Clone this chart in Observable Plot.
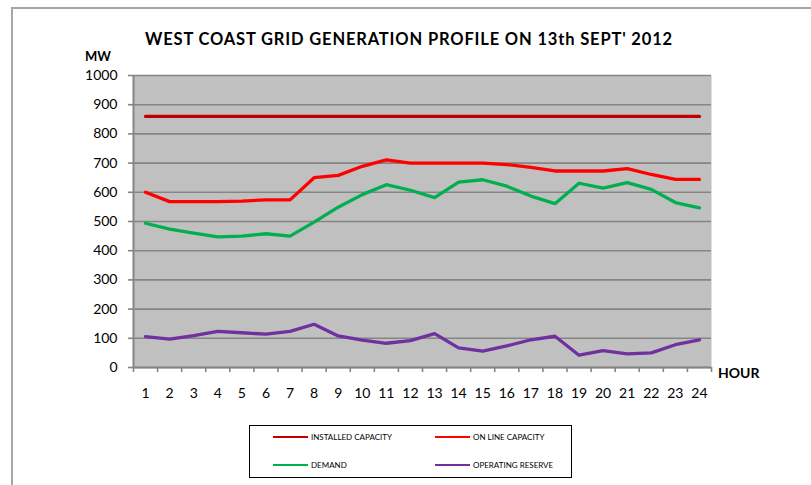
<!DOCTYPE html>
<html>
<head>
<meta charset="utf-8">
<script src="https://cdn.jsdelivr.net/npm/d3@7"></script>
<script src="https://cdn.jsdelivr.net/npm/@observablehq/plot@0.6"></script>
<style>
  html, body { margin: 0; padding: 0; background: #fff; }
  #wrap { position: relative; width: 811px; height: 485px; overflow: hidden; font-family: Lato, "Open Sans", sans-serif; }
  #frame { position: absolute; left: 11px; top: 7px; width: 900px; height: 600px; border-left: 2px solid #a6a6a6; border-top: 2px solid #a6a6a6; }
  #chart { position: absolute; left: 0; top: 0; }
  .lbl { position: absolute; white-space: nowrap; font-weight: 700; color: #000; line-height: 1; }
  #legend { position: absolute; left: 249px; top: 425px; width: 321px; height: 51px; border: 1.5px solid #000; background: #fff; }
  .leg { position: absolute; display: flex; align-items: center; font-size: 8px; color: #000; white-space: nowrap; }
  .leg .sw { width: 35px; height: 2px; margin-right: 3px; }
</style>
</head>
<body>
<div id="wrap">
  <div id="frame"></div>
  <div id="chart"></div>
  <div class="lbl" id="title" style="left:145px; top:31px; font-size:16.5px;">WEST COAST GRID GENERATION PROFILE ON 13th SEPT' 2012</div>
  <div class="lbl" id="mw" style="left:85px; top:50px; font-size:13px;">MW</div>
  <div class="lbl" id="hour" style="left:718px; top:366px; font-size:14px;">HOUR</div>
  <div id="legend"></div>
</div>
<script>
const hours = [1,2,3,4,5,6,7,8,9,10,11,12,13,14,15,16,17,18,19,20,21,22,23,24];
const yTicks = [0,100,200,300,400,500,600,700,800,900,1000];
const seriesNames = ["INSTALLED CAPACITY", "ON LINE CAPACITY", "DEMAND", "OPERATING RESERVE"];
const seriesColors = ["#c00000", "#ff0000", "#00b050", "#7030a0"];

const installedCapacity = [860,860,860,860,860,860,860,860,860,860,860,860,860,860,860,860,860,860,860,860,860,860,860,860];
const onlineCapacity = [600,568,568,568,570,574,574,650,658,689,711,700,700,700,700,695,685,673,673,673,681,661,644,644];
const demand = [494,474,460,447,450,458,450,498,549,592,626,607,582,635,643,621,587,561,631,614,633,610,565,547];
const operatingReserve = [106,97,109,124,119,114,124,148,108,94,83,92,116,67,56,74,95,107,42,58,47,50,78,95];

const seriesValues = [installedCapacity, onlineCapacity, demand, operatingReserve];
const rows = seriesNames.flatMap((s, i) => hours.map((h, j) => ({hour: h, mw: seriesValues[i][j], series: s})));
const boundaries = hours.map(h => h - 0.5).concat([hours[hours.length - 1] + 0.5]);

const chart = Plot.plot({
  width: 811,
  height: 485,
  marginLeft: 133,
  marginRight: 100,
  marginTop: 75,
  marginBottom: 118,
  style: {fontFamily: "Lato, 'Open Sans', sans-serif", fontSize: "14px", background: "transparent", color: "#000"},
  x: {domain: [0.5, 24.5]},
  y: {domain: [0, 1000]},
  color: {domain: seriesNames, range: seriesColors},
  marks: [
    Plot.frame({fill: "#c0c0c0", stroke: null}),
    Plot.gridY(yTicks, {stroke: "#858585", strokeOpacity: 1, strokeWidth: 1.6}),
    Plot.ruleX([0.5], {stroke: "#858585", strokeWidth: 2}),
    Plot.ruleY([0], {stroke: "#858585", strokeWidth: 2}),
    Plot.axisY(yTicks, {tickSize: 5, tickPadding: 11, tickFormat: d => String(d), stroke: "#858585", strokeWidth: 1.6, fill: "#000", fontSize: 14, label: null}),
    Plot.axisX(boundaries, {tickSize: 5, tickFormat: () => "", stroke: "#858585", strokeWidth: 1.6, label: null}),
    Plot.axisX(hours, {tickSize: 0, tickPadding: 21, tickFormat: d => String(d), fill: "#000", fontSize: 14, label: null}),
    Plot.line(rows, {x: "hour", y: "mw", z: "series", stroke: "series", strokeWidth: 3.3, strokeLinejoin: "round", strokeLinecap: "round"})
  ]
});
document.getElementById("chart").appendChild(chart);

// legend built from the series arrays
const legend = document.getElementById("legend");
const legPos = [[23, 6], [185, 6], [23, 34], [185, 34]];
seriesNames.forEach((s, i) => {
  const d = document.createElement("div");
  d.className = "leg";
  d.style.left = legPos[i][0] + "px";
  d.style.top = legPos[i][1] + "px";
  d.innerHTML = `<span class="sw" style="background:${seriesColors[i]}"></span><span class="t">${s}</span>`;
  legend.appendChild(d);
});

// fit text widths to the reference
function fitWidth(el, target) {
  const w = el.getBoundingClientRect().width;
  const n = el.textContent.length;
  el.style.letterSpacing = ((target - w) / n) + "px";
}
fitWidth(document.getElementById("title"), 528);
</script>
</body>
</html>
